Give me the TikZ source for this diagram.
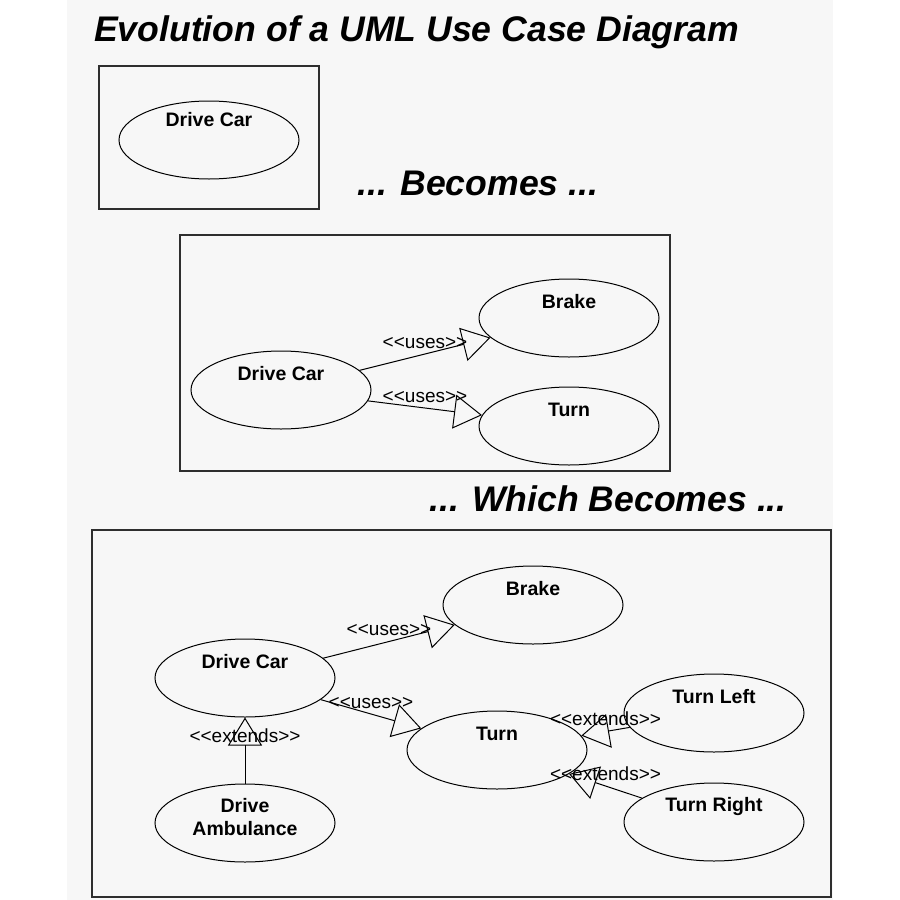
\documentclass[tikz,border=0pt]{standalone}
\usepackage{fontspec}
\setmainfont{Liberation Sans}[Ligatures=TeXOff]
\usetikzlibrary{arrows.meta}
\usetikzlibrary{shapes}
\definecolor{panel}{HTML}{F7F7F7}
\definecolor{rahmen}{HTML}{2E2E2E}
\newcommand{\stereotype}[1]{\mbox{<}\mbox{<}#1\mbox{>}\mbox{>}}

\begin{document}
\begin{tikzpicture}[x=1pt, y=-1pt,
        uc/.style={ellipse, draw, line width=1pt, minimum width=180pt, minimum height=78pt, inner sep=0pt},
        uctext/.style={yshift=16pt, inner sep=0pt, align=center, font=\fontsize{19.5}{23}\selectfont\bfseries},
        uctexttwo/.style={uctext, yshift=-10pt},
        boxframe/.style={draw=rahmen, line width=1.5pt},
        rel/.style={-{Triangle[open, length=28pt, width=34pt]}, line width=1pt},
        stereo/.style={font=\fontsize{19}{23}\selectfont, inner sep=5pt},
        heading/.style={font=\fontsize{35.6}{40}\selectfont\bfseries\itshape, inner sep=0pt}]
        \useasboundingbox (0,0) rectangle (900,900);
        \fill[panel] (67,0) rectangle (833,900);

        \node[heading, anchor=base west] (T) at (94,41) {Evolution of a UML Use Case Diagram};
        \node[heading, anchor=base] (B) at (478,195) {... Becomes ...};
        \node[heading, anchor=base] (W) at (608,511) {... Which Becomes ...};

        \draw[boxframe] (99,66) rectangle (319,209);
        \draw[boxframe] (180,235) rectangle (670,471);
        \draw[boxframe] (92,530) rectangle (831,897);

        \node[uc, label={[uctext, yshift=4pt]center:Drive Car}] (DC1) at (209,140) {};

        \node[uc, label={[uctext]center:Drive Car}] (DC2) at (281,390) {};
        \node[uc, label={[uctext]center:Brake}] (BR2) at (569,318) {};
        \node[uc, label={[uctext]center:Turn}] (TU2) at (569,426) {};
        \path[rel] (DC2) edge node[stereo, above] (U21) {\stereotype{uses}} (BR2);
        \path[rel] (DC2) edge node[stereo, above] (U22) {\stereotype{uses}} (TU2);

        \node[uc, label={[uctext]center:Drive Car}] (DC3) at (245,678) {};
        \node[uc, label={[uctext]center:Brake}] (BR3) at (533,605) {};
        \node[uc, label={[uctext]center:Turn}] (TU3) at (497,750) {};
        \node[uc, label={[uctext]center:Turn Left}] (TL3) at (714,713) {};
        \node[uc, label={[uctext]center:Turn Right}] (TR3) at (714,822) {};
        \node[uc, label={[uctexttwo]center:{Drive\\Ambulance}}] (DA3) at (245,823) {};
        \path[rel] (DC3) edge node[stereo, above] (U31) {\stereotype{uses}} (BR3);
        \path[rel] (DC3) edge node[stereo, above] (U32) {\stereotype{uses}} (TU3);
        \path[rel] (DA3) edge node[stereo, pos=.73] (E31) {\stereotype{extends}} (DC3);
        \path[rel] (TL3) edge node[stereo, above] (E32) {\stereotype{extends}} (TU3);
        \path[rel] (TR3) edge node[stereo, above] (E33) {\stereotype{extends}} (TU3);
    \end{tikzpicture}
\end{document}
